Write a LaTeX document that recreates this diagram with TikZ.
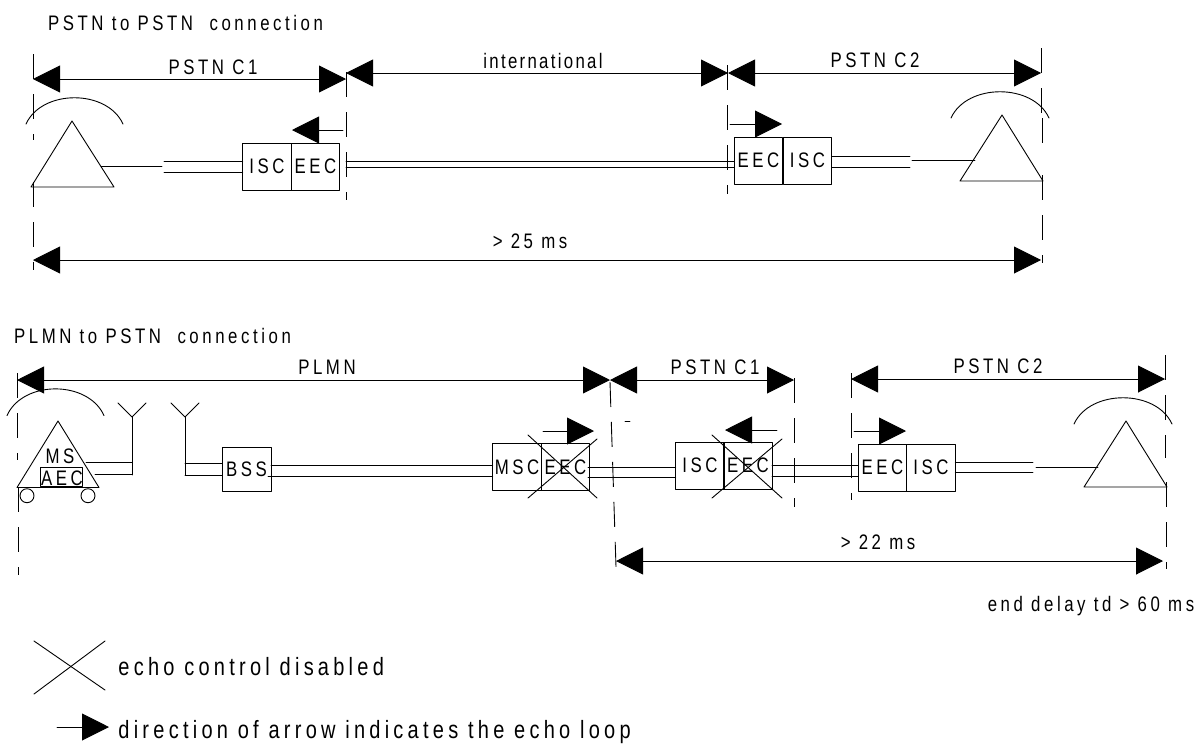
\documentclass[tikz,border=0pt]{standalone}
\usepackage{fontspec}
\setmainfont{Liberation Sans}[FakeStretch=0.8,LetterSpace=17]
\usetikzlibrary{arrows.meta}
\tikzset{
  cell/.style={draw,rectangle,inner sep=0pt,outer sep=0pt,minimum width=48.5pt,minimum height=47pt},
  lab/.style={inner sep=0pt,font=\fontsize{21pt}{23pt}\selectfont},
  biglab/.style={inner sep=0pt,anchor=west,font=\fontsize{25pt}{27pt}\selectfont},
  gap/.style={dash pattern=on 25pt off 15pt,line cap=butt}
}
\begin{document}
\begin{tikzpicture}[line cap=round,line join=round,line width=0.9pt,>={Triangle[length=27pt,width=27pt]},x=1pt,y=-1pt]
        \useasboundingbox (0,0) rectangle (1198,745);
        \node [lab] (titleA) at (185.5,23) {PSTN to PSTN\ \ connection};
        \node [lab] (titleB) at (152.5,336) {PLMN to PSTN\ \ connection};
        \coordinate (a1) at (33,79);
        \coordinate (a2) at (346,79);
        \coordinate (a3) at (346,73);
        \coordinate (a4) at (728,73);
        \coordinate (a5) at (1041,73);
        \coordinate (a6) at (33,260);
        \coordinate (a7) at (1041,260);
        \draw [<->] (a1) -- (a2);
        \draw [<->] (a3) -- (a4);
        \draw [<->] (a4) -- (a5);
        \draw [<->] (a6) -- (a7);
        \node [lab] (c1A) at (213,67) {PSTN C1};
        \node [lab] (intl) at (543,61) {\addfontfeature{LetterSpace=11}international};
        \node [lab] (c2A) at (875,60) {PSTN C2};
        \node [lab] (msA) at (530,241) {> 25 ms};
        \draw [gap] (33,54) -- (33,140);
        \draw [gap] (33,182) -- (33,270);
        \draw [gap] (346,72) -- (346,200);
        \draw [gap] (727,65) -- (727,194);
        \draw [gap] (1041,48) -- (1041,113);
        \draw [gap] (1042,118) -- (1042,143);
        \draw [gap] (1042,175) -- (1042,263);
        \draw [shift={(72,121)}] (0,0) -- (-41,66) -- (42,66) -- cycle;
        \draw [shift={(72,121)}] (-46,3) .. controls (-30,-32) and (35,-32) .. (51,3);
        \draw [shift={(1002,115)}] (0,0) -- (-42,66) -- (41,66) -- cycle;
        \draw [shift={(1002,115)}] (-51,3) .. controls (-35,-32) and (31,-32) .. (47,3);
        \node [cell,lab] (iscA) at (267,166.5) {ISC};
        \node [cell,lab] (eecA) at (315.5,166.5) {EEC};
        \node [cell,lab] (eecB) at (758.5,160.5) {EEC};
        \node [cell,lab] (iscB) at (807.5,160.5) {ISC};
        \coordinate (b1) at (162,166);
        \coordinate (b2) at (164,161);
        \coordinate (b3) at (164,172);
        \coordinate (b4) at (346,161);
        \coordinate (b5) at (346,167);
        \coordinate (b6) at (910,156);
        \coordinate (b7) at (910,167);
        \coordinate (b8) at (912,160);
        \draw (101,166) -- (b1);
        \draw (b2) -- (iscA.west |- b2);
        \draw (b3) -- (iscA.west |- b3);
        \draw (b4) -- (eecB.west |- b4);
        \draw (b5) -- (eecB.west |- b5);
        \draw (iscB.east |- b6) -- (b6);
        \draw (iscB.east |- b7) -- (b7);
        \draw (b8) -- (975,160);
        \coordinate (e1) at (343,130);
        \coordinate (e2) at (292,130);
        \coordinate (e3) at (730,124);
        \coordinate (e4) at (782,124);
        \draw [->] (e1) -- (e2);
        \draw [->] (e3) -- (e4);
        \coordinate (d1) at (17,380);
        \coordinate (d2) at (610,380);
        \coordinate (d3) at (794,380);
        \coordinate (d4) at (851,379);
        \coordinate (d5) at (1165,379);
        \coordinate (d6) at (616,561);
        \coordinate (d7) at (1163,561);
        \draw [<->] (d1) -- (d2);
        \draw [<->] (d2) -- (d3);
        \draw [<->] (d4) -- (d5);
        \draw [<->] (d6) -- (d7);
        \node [lab] (plmn) at (327,367) {PLMN};
        \node [lab] (c1B) at (715,367) {PSTN C1};
        \node [lab] (c2B) at (998,366) {PSTN C2};
        \node [lab] (msB) at (878,542) {> 22 ms};
        \node [lab] (delay) at (1091,606) {end delay td > 60 ms};
        \draw [gap] (17,373) -- (17,460);
        \draw [gap] (18,487) -- (18,575);
        \draw [gap] (610,382) -- (616,567);
        \draw [gap] (794,378) -- (794,507);
        \draw [gap] (851,373) -- (851,500);
        \draw [gap] (1165,355) -- (1165,458);
        \draw [gap] (1166,482) -- (1166,569);
        \draw (625,421) -- (630,421);
        \draw [shift={(58,421)}] (0,0) -- (-41,66.5) -- (41,66.5) -- cycle;
        \draw [shift={(58,421)}] (-51,-5.5) .. controls (-35,-41) and (30,-41) .. (46,-5.5);
        \draw [shift={(1126,421)}] (0,0) -- (-42,66) -- (41,66) -- cycle;
        \draw [shift={(1126,421)}] (-52,3) .. controls (-36,-32) and (30,-32) .. (46,3);
        \node [draw,inner sep=0pt,minimum width=42pt,minimum height=19pt] (aec) at (61,476.5) {};
        \node [lab] (aecT) at (62,478) {AEC};
        \node [lab] (ms) at (60,456) {MS};
        \draw (27,495.7) circle (7pt);
        \draw (88,495.7) circle (7pt);
        \coordinate (f1) at (132,417);
        \coordinate (f2) at (132,475);
        \coordinate (f3) at (185,417);
        \coordinate (f4) at (185,475);
        \coordinate (f5) at (185,463);
        \coordinate (f6) at (132,462);
        \coordinate (f7) at (132,474.5);
        \draw (118,403) -- (f1) -- (146,403);
        \draw (171,403) -- (f3) -- (199,403);
        \draw (f1) -- (f2);
        \draw (f3) -- (f4);
        \draw (86,462) -- (f6);
        \draw (95,474.5) -- (f7);
        \node [cell,lab,minimum width=49pt,minimum height=44pt] (bss) at (246.5,469) {BSS};
        \draw (f5) -- (bss.west |- f5);
        \draw (f4) -- (bss.west |- f4);
        \node [cell,lab] (msc) at (517,467) {MSC};
        \node [cell,lab] (eecC) at (565.5,467) {EEC};
        \node [cell,lab] (iscC) at (700,465.5) {ISC};
        \node [cell,lab] (eecD) at (748,465.5) {EEC};
        \node [cell,lab] (eecE) at (882.5,467.5) {EEC};
        \node [cell,lab] (iscE) at (931,467.5) {ISC};
        \coordinate (g1) at (271,465);
        \coordinate (g2) at (268,476);
        \draw (g1) -- (msc.west |- g1);
        \draw (g2) -- (msc.west |- g2);
        \coordinate (g3) at (588,467);
        \coordinate (g4) at (588,477);
        \draw (g3) -- (iscC.west |- g3);
        \draw (g4) -- (iscC.west |- g4);
        \coordinate (g5) at (772,465);
        \coordinate (g6) at (772,476);
        \draw (g5) -- (eecE.west |- g5);
        \draw (g6) -- (eecE.west |- g6);
        \coordinate (g7) at (1033,462);
        \coordinate (g8) at (1033,472);
        \coordinate (g9) at (1036,467);
        \draw (iscE.east |- g7) -- (g7);
        \draw (iscE.east |- g8) -- (g8);
        \draw (g9) -- (1098,467);
        \draw (528,435) -- (597,498);
        \draw (597,439) -- (528,498);
        \draw (712,435) -- (782,498);
        \draw (782,439) -- (712,498);
        \coordinate (h1) at (543,431);
        \coordinate (h2) at (594,431);
        \coordinate (h3) at (777,430);
        \coordinate (h4) at (725,430);
        \coordinate (h5) at (854,431);
        \coordinate (h6) at (906,431);
        \draw [->] (h1) -- (h2);
        \draw [->] (h3) -- (h4);
        \draw [->] (h5) -- (h6);
        \draw (34,641) -- (105,690);
        \draw (105,641) -- (34,694);
        \node [biglab] (echo) at (118,667) {echo control disabled};
        \coordinate (k1) at (57,727);
        \coordinate (k2) at (109,727);
        \draw [->] (k1) -- (k2);
        \node [biglab] (loop) at (118,732) {direction of arrow indicates the echo loop};
\end{tikzpicture}
\end{document}
